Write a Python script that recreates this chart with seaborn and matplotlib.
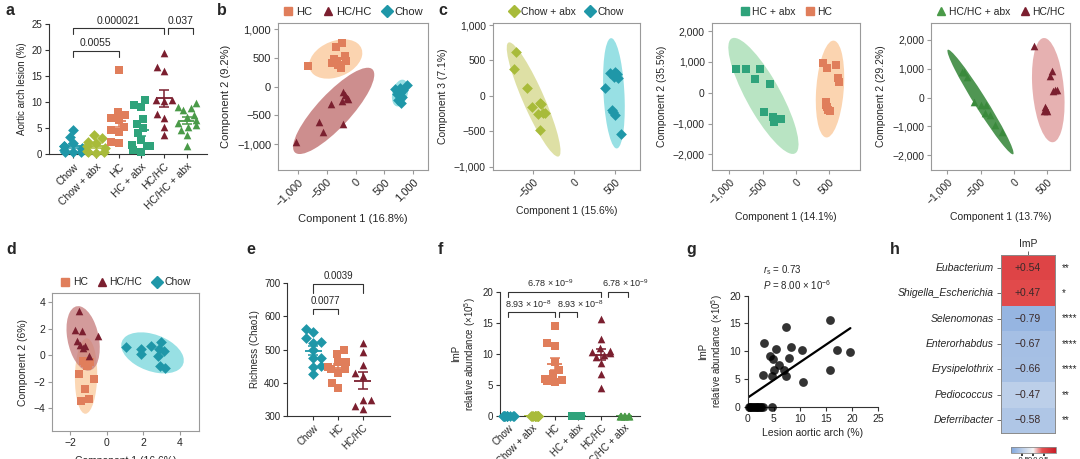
import numpy as np
import pandas as pd
import matplotlib
matplotlib.use("Agg")
import matplotlib.pyplot as plt
import seaborn as sns
import matplotlib.transforms as transforms
from matplotlib.patches import Ellipse
from matplotlib.lines import Line2D
from matplotlib.colors import LinearSegmentedColormap
from matplotlib.ticker import FuncFormatter

# ---------------- data ----------------
cats_a = ["Chow", "Chow + abx", "HC", "HC + abx", "HC/HC", "HC/HC + abx"]
a_chow = [4.7, 3.4, 2.1, 1.5, 1.2, 0.5, 0.5, 0.5, 0.8, 1.5, 1.0]
a_chow_abx = [3.7, 3.1, 2.4, 2.1, 1.5, 1.2, 0.7, 0.5, 0.3, 0.5]
a_hc = [16.2, 8.2, 7.5, 6.9, 6.6, 5.3, 4.7, 4.3, 2.4, 2.2]
a_hc_abx = [10.4, 9.5, 9.1, 6.8, 5.8, 5.0, 4.0, 2.7, 1.8, 1.5, 1.5, 0.8, 0.5]
a_hchc = [19.5, 16.8, 16.0, 10.5, 10.5, 6.9, 7.7, 3.7, 5.2, 10.3]
a_hchc_abx = [9.8, 9.0, 8.8, 8.5, 7.5, 7.2, 6.5, 6.1, 5.6, 5.3, 4.7, 3.7, 1.5]
a_pvals = ["0.0055", "0.000021", "0.037"]

# panel b (PLS-DA components)
b_hc_x = [-827, -337, -239, -372, -412, -297, -256, -182, -170, -326]
b_hc_y = [366, 680, 756, 477, 407, 378, 320, 523, 448, 436]
b_hchc_x = [-1029, -625, -556, -424, -239, -210, -182, -153, -135, -222]
b_hchc_y = [-971, -610, -785, -308, -250, -87, -145, -203, -215, -651]
b_chow_x = [683, 741, 769, 798, 741, 885, 769, 827, 712, 781]
b_chow_y = [-46, -87, -116, -174, -233, 29, -29, -58, -134, -279]

# panel c1
c1_abx_x = [-712, -733, -580, -514, -424, -403, -383, -444, -416, -362]
c1_abx_y = [614, 379, 106, -153, -106, -115, -247, -261, -482, -247]
c1_chow_x = [379, 440, 502, 523, 543, 461, 502, 481, 572, 494]
c1_chow_y = [106, 327, 341, 308, 247, -200, -271, -224, -544, 270]
# panel c2
c2_abx_x = [-905, -750, -540, -615, -390, -480, -340, -325, -230, -315]
c2_abx_y = [768, 768, 768, 443, 281, -616, -800, -940, -865, -854]
c2_hc_x = [400, 460, 600, 635, 650, 450, 460, 485, 450, 510]
c2_hc_y = [973, 789, 897, 465, 357, -292, -454, -562, -400, -595]
# panel c3
c3_abx_x = [-784, -746, -594, -499, -423, -366, -290, -176, -442, -708]
c3_abx_y = [879, 879, -158, -263, -263, -615, -949, -1186, -527, 703]
c3_hchc_x = [300, 565, 540, 615, 580, 465, 490, 455, 650, 480]
c3_hchc_y = [1803, 936, 751, 266, 243, -335, -462, -462, 266, -393]

# panel d
d_hc_x = [-1.5, -0.68, -1.22, -1.41, -0.95, -1.22, -1.04, -1.32, -1.1, -0.91]
d_hc_y = [-1.39, -1.79, -2.55, -3.43, -3.31, -0.58, -0.71, -0.45, -0.83, -0.53]
d_hchc_x = [-1.5, -1.72, -1.35, -0.49, -1.63, -1.44, -1.22, -0.99, -1.32]
d_hchc_y = [3.33, 1.89, 1.82, 1.44, 1.06, 0.81, 0.68, -0.08, 0.56]
d_chow_x = [1.06, 1.85, 1.85, 2.43, 2.98, 2.85, 3.13, 2.8, 2.89, 3.2]
d_chow_y = [0.61, 0.5, 0.1, 0.68, 0.98, 0.48, 0.35, -0.08, -0.78, -0.96]

# panel e
cats_e = ["Chow", "HC", "HC/HC"]
e_chow = [562, 552, 534, 521, 524, 498, 473, 473, 448, 450, 425]
e_hc = [500, 486, 463, 463, 448, 440, 440, 428, 398, 383]
e_hchc = [519, 493, 453, 428, 420, 347, 347, 320, 329]
e_pvals = ["0.0077", "0.0039"]

# panel f
f_chow = [0, 0, 0, 0, 0, 0, 0, 0, 0, 0]
f_chow_abx = [0, 0, 0, 0, 0, 0, 0, 0, 0, 0]
f_hc = [14.5, 11.7, 11.2, 8.7, 7.4, 6.7, 5.9, 5.8, 5.6, 5.5]
f_hc_abx = [0, 0, 0, 0, 0, 0, 0, 0, 0, 0, 0]
f_hchc = [15.6, 12.3, 10.9, 10.5, 10.2, 10.1, 9.8, 9.5, 8.5, 6.7, 4.4]
f_hchc_abx = [0, 0, 0, 0, 0, 0, 0, 0, 0, 0]

# panel g
g_lesion = [3.2, 7.4, 5.4, 8.3, 10.5, 4.3, 4.8, 6.0, 8.0, 7.05, 5.1, 3.0, 4.6, 7.4,
            10.7, 15.8, 15.8, 17.2, 19.7,
            0.2, 0.5, 0.7, 1.0, 1.2, 1.5, 1.8, 2.0, 2.3, 2.6, 2.9, 4.7]
g_imp = [11.5, 14.4, 10.4, 10.8, 10.3, 9.1, 8.6, 7.5, 8.7, 6.7, 6.6, 5.8, 5.6, 5.6,
         4.5, 15.7, 6.7, 10.2, 9.8,
         0, 0, 0, 0, 0, 0, 0, 0, 0, 0, 0, 0]

# panel h
h_taxa = ["Eubacterium", "Shigella_Escherichia", "Selenomonas", "Enterorhabdus",
          "Erysipelothrix", "Pediococcus", "Deferribacter"]
h_vals = [0.54, 0.47, -0.79, -0.67, -0.66, -0.47, -0.58]
h_stars = ["**", "*", "****", "****", "****", "**", "**"]

# ---------------- style ----------------
sns.set_theme(style="ticks")
plt.rcParams["font.family"] = ["Liberation Sans", "DejaVu Sans"]
plt.rcParams["mathtext.fontset"] = "custom"
plt.rcParams["mathtext.rm"] = "Liberation Sans"
plt.rcParams["mathtext.it"] = "Liberation Sans:italic"
plt.rcParams["mathtext.bf"] = "Liberation Sans:bold"
plt.rcParams["axes.unicode_minus"] = True

COL = {"Chow": "#1f97a8", "Chow + abx": "#a8bb3a", "HC": "#e07e5b",
       "HC + abx": "#2fa37b", "HC/HC": "#7b1f2f", "HC/HC + abx": "#4a9a48"}
MARK = {"Chow": "D", "Chow + abx": "D", "HC": "s", "HC + abx": "s",
        "HC/HC": "^", "HC/HC + abx": "^"}
ELL = {"Chow": "#86dbe0", "Chow + abx": "#d9db96", "HC": "#fbcda2",
       "HC + abx": "#ade0b9", "HC/HC": "#c57a7a", "HC/HC + abx": "#46914a"}

W, H = 1080, 459
fig = plt.figure(figsize=(10.8, 4.59), dpi=100)


def add_ax(l, t, r, b):
    return fig.add_axes([l / W, 1 - b / H, (r - l) / W, (b - t) / H])


def panel_label(x, y, s):
    fig.text(x / W, 1 - y / H, s, fontsize=11.5, fontweight="bold", va="top", ha="left")


def style_dot(ax, fs=7):
    sns.despine(ax=ax)
    for sp in ["left", "bottom"]:
        ax.spines[sp].set_color("#333333")
        ax.spines[sp].set_linewidth(0.8)
    ax.tick_params(length=3, width=0.8, labelsize=fs, color="#333333", pad=2)


def style_box(ax, fs=7.5):
    for sp in ax.spines.values():
        sp.set_color("#9a9a9a")
        sp.set_linewidth(0.8)
    ax.tick_params(length=3, width=0.8, labelsize=fs, color="#9a9a9a", pad=2)


thou = FuncFormatter(lambda v, p: f"{v:,.0f}".replace("-", "\u2212"))


def conf_ellipse(ax, x, y, color, n_std=2.45, alpha=0.85):
    x = np.asarray(x, float)
    y = np.asarray(y, float)
    cov = np.cov(x, y)
    pr = cov[0, 1] / np.sqrt(cov[0, 0] * cov[1, 1])
    e = Ellipse((0, 0), width=2 * np.sqrt(1 + pr), height=2 * np.sqrt(max(1 - pr, 1e-4)),
                facecolor=color, edgecolor="none", alpha=alpha, zorder=1)
    tr = (transforms.Affine2D().rotate_deg(45)
          .scale(np.sqrt(cov[0, 0]) * n_std, np.sqrt(cov[1, 1]) * n_std)
          .translate(x.mean(), y.mean()))
    e.set_transform(tr + ax.transData)
    ax.add_patch(e)


def scatter_group(ax, x, y, grp, s=30, color=None):
    sns.scatterplot(x=x, y=y, ax=ax, color=color or COL[grp], marker=MARK[grp],
                    s=s, linewidth=0, zorder=3, legend=False)


def legend_top(ax, groups, fs=7.5, ms=6):
    hs = [Line2D([], [], marker=MARK[g], color=COL[g], linestyle="none", markersize=ms)
          for g in groups]
    ax.legend(hs, groups, loc="lower center", bbox_to_anchor=(0.5, 1.0), ncol=len(groups),
              frameon=False, fontsize=fs, handletextpad=0.2, columnspacing=0.9,
              borderaxespad=0.15, handlelength=1.0)


def bracket(ax, x1, x2, y, h, text, tx=None, ty=None, fs=7):
    ax.plot([x1, x1, x2, x2], [y - h, y, y, y - h], color="#333333", lw=0.8,
            clip_on=False)
    ax.text((x1 + x2) / 2 if tx is None else tx, y + h * 0.35 if ty is None else ty,
            text, ha="center", va="bottom", fontsize=fs, clip_on=False)


def dot_panel(ax, groups, values, order, size=5.5, zero_groups=()):
    for g, v in zip(groups, values):
        df = pd.DataFrame({"grp": [g] * len(v), "val": v})
        if g in zero_groups:
            sns.stripplot(data=df, x="grp", y="val", order=order, color=COL[g],
                          marker=MARK[g], size=size, jitter=0.28, linewidth=0, ax=ax,
                          zorder=3, clip_on=False)
        else:
            sns.swarmplot(data=df, x="grp", y="val", order=order, color=COL[g],
                          marker=MARK[g], size=size, linewidth=0, ax=ax, zorder=3,
                          clip_on=False)
        i = order.index(g)
        m = np.mean(v)
        se = np.std(v, ddof=1) / np.sqrt(len(v))
        ax.hlines(m, i - 0.34, i + 0.34, color=COL[g], lw=1.3, zorder=4)
        ax.errorbar(i, m, yerr=se, color=COL[g], lw=1.1, capsize=3.5, capthick=1.1,
                    zorder=4)
    ax.set_xlabel("")


# ---------------- panel a ----------------
axa = add_ax(49, 24, 207, 154.3)
dot_panel(axa, cats_a, [a_chow, a_chow_abx, a_hc, a_hc_abx, a_hchc, a_hchc_abx], cats_a)
axa.set_xlim(-1.07, 5.9)
axa.set_ylim(0, 25)
axa.set_yticks([0, 5, 10, 15, 20, 25])
axa.set_xticks(range(6))
axa.set_xticklabels(cats_a, rotation=45, ha="right", rotation_mode="anchor")
axa.set_ylabel("Aortic arch lesion (%)", fontsize=7, labelpad=3)
style_dot(axa, 7)
axa.tick_params(axis="x", labelsize=7.5)
bracket(axa, 0, 2, 19.9, 1.3, a_pvals[0], fs=7.5)
bracket(axa, 0, 4, 24.2, 1.2, a_pvals[1], fs=7.5)
bracket(axa, 4.2, 5.3, 24.2, 1.2, a_pvals[2], fs=7.5)
panel_label(6, 3, "a")

# ---------------- panel b ----------------
axb = add_ax(278, 23, 428, 170)
conf_ellipse(axb, b_hc_x, b_hc_y, ELL["HC"])
conf_ellipse(axb, b_hchc_x, b_hchc_y, ELL["HC/HC"])
conf_ellipse(axb, b_chow_x, b_chow_y, ELL["Chow"])
scatter_group(axb, b_hc_x, b_hc_y, "HC")
scatter_group(axb, b_hchc_x, b_hchc_y, "HC/HC")
scatter_group(axb, b_chow_x, b_chow_y, "Chow")
axb.set_xlim(-1340, 1253)
axb.set_ylim(-1450, 1105)
axb.set_xticks([-1000, -500, 0, 500, 1000])
axb.set_yticks([-1000, -500, 0, 500, 1000])
axb.xaxis.set_major_formatter(thou)
axb.yaxis.set_major_formatter(thou)
plt.setp(axb.get_xticklabels(), rotation=45, ha="right", rotation_mode="anchor")
axb.set_xlabel("Component 1 (16.8%)", fontsize=8)
axb.set_ylabel("Component 2 (9.2%)", fontsize=8)
style_box(axb, 8)
legend_top(axb, ["HC", "HC/HC", "Chow"], fs=8)
panel_label(217, 3, "b")

# ---------------- panel c ----------------
axc1 = add_ax(492.7, 22.7, 640, 170)
conf_ellipse(axc1, c1_abx_x, c1_abx_y, ELL["Chow + abx"])
conf_ellipse(axc1, c1_chow_x, c1_chow_y, ELL["Chow"])
scatter_group(axc1, c1_abx_x, c1_abx_y, "Chow + abx")
scatter_group(axc1, c1_chow_x, c1_chow_y, "Chow")
axc1.set_xlim(-1000, 810)
axc1.set_ylim(-1047, 1033)
axc1.set_xticks([-500, 0, 500])
axc1.set_yticks([-1000, -500, 0, 500, 1000])
axc1.set_xlabel("Component 1 (15.6%)", fontsize=7.5)
axc1.set_ylabel("Component 3 (7.1%)", fontsize=7.5)
legend_top(axc1, ["Chow + abx", "Chow"])

axc2 = add_ax(711.7, 22.7, 860, 170)
conf_ellipse(axc2, c2_abx_x, c2_abx_y, ELL["HC + abx"])
conf_ellipse(axc2, c2_hc_x, c2_hc_y, ELL["HC"])
scatter_group(axc2, c2_abx_x, c2_abx_y, "HC + abx")
scatter_group(axc2, c2_hc_x, c2_hc_y, "HC")
axc2.set_xlim(-1265, 960)
axc2.set_ylim(-2508, 2270)
axc2.set_xticks([-1000, -500, 0, 500])
axc2.set_yticks([-2000, -1000, 0, 1000, 2000])
axc2.set_xlabel("Component 1 (14.1%)", fontsize=7.5)
axc2.set_ylabel("Component 2 (35.5%)", fontsize=7.5)
legend_top(axc2, ["HC + abx", "HC"])

axc3 = add_ax(931, 22.7, 1070, 170)
conf_ellipse(axc3, c3_abx_x, c3_abx_y, ELL["HC/HC + abx"], alpha=0.95)
conf_ellipse(axc3, c3_hchc_x, c3_hchc_y, "#e2a4a4")
scatter_group(axc3, c3_abx_x, c3_abx_y, "HC/HC + abx", color="#3a8a3c")
scatter_group(axc3, c3_hchc_x, c3_hchc_y, "HC/HC")
axc3.set_xlim(-1245, 840)
axc3.set_ylim(-2509, 2600)
axc3.set_xticks([-1000, -500, 0, 500])
axc3.set_yticks([-2000, -1000, 0, 1000, 2000])
axc3.set_xlabel("Component 1 (13.7%)", fontsize=7.5)
axc3.set_ylabel("Component 2 (29.2%)", fontsize=7.5)
legend_top(axc3, ["HC/HC + abx", "HC/HC"])
for ax in (axc1, axc2, axc3):
    ax.xaxis.set_major_formatter(thou)
    ax.yaxis.set_major_formatter(thou)
    plt.setp(ax.get_xticklabels(), rotation=45, ha="right", rotation_mode="anchor")
    style_box(ax, 7.5)
panel_label(438, 3, "c")

# ---------------- panel d ----------------
axd = add_ax(52, 293, 199, 431)
conf_ellipse(axd, d_hc_x, d_hc_y, ELL["HC"], alpha=0.8)
conf_ellipse(axd, d_hchc_x, d_hchc_y, ELL["HC/HC"], alpha=0.75)
conf_ellipse(axd, d_chow_x, d_chow_y, ELL["Chow"])
scatter_group(axd, d_hc_x, d_hc_y, "HC")
scatter_group(axd, d_hchc_x, d_hchc_y, "HC/HC")
scatter_group(axd, d_chow_x, d_chow_y, "Chow")
axd.set_xlim(-3.0, 5.05)
axd.set_ylim(-5.7, 4.7)
axd.set_xticks([-2, 0, 2, 4])
axd.set_yticks([-4, -2, 0, 2, 4])
axd.set_xlabel("Component 1 (16.6%)", fontsize=7.5, labelpad=6)
axd.set_ylabel("Component 2 (6%)", fontsize=7.5)
style_box(axd, 7.5)
legend_top(axd, ["HC", "HC/HC", "Chow"])
panel_label(6, 242, "d")

# ---------------- panel e ----------------
axe = add_ax(287.3, 283.3, 390, 415.7)
dot_panel(axe, cats_e, [e_chow, e_hc, e_hchc], cats_e)
axe.set_xlim(-1.05, 3.1)
axe.set_ylim(300, 700)
axe.set_yticks([300, 400, 500, 600, 700])
axe.set_xticks(range(3))
axe.set_xticklabels(cats_e, rotation=45, ha="right", rotation_mode="anchor")
axe.set_ylabel("Richness (Chao1)", fontsize=7, labelpad=3)
style_dot(axe, 7)
bracket(axe, 0, 1, 622, 15, e_pvals[0], ty=630)
bracket(axe, 0, 2, 698, 26, e_pvals[1], ty=706)
panel_label(246, 242, "e")

# ---------------- panel f ----------------
axf = add_ax(500, 291.7, 640, 415.7)
dot_panel(axf, cats_a, [f_chow, f_chow_abx, f_hc, f_hc_abx, f_hchc, f_hchc_abx], cats_a,
          zero_groups=("Chow", "Chow + abx", "HC + abx", "HC/HC + abx"))
axf.set_xlim(-0.36, 5.69)
axf.set_ylim(0, 20)
axf.set_yticks([0, 5, 10, 15, 20])
axf.set_xticks(range(6))
axf.set_xticklabels(cats_a, rotation=45, ha="right", rotation_mode="anchor")
axf.set_ylabel("ImP\nrelative abundance (\u00d710$^{5}$)", fontsize=7, labelpad=3,
               linespacing=1.1)
style_dot(axf, 7)
bracket(axf, 0, 4, 20.0, 0.8, "6.78 \u00d7 10$^{-9}$", tx=1.8, ty=20.4, fs=6.5)
bracket(axf, 4.3, 5.15, 20.0, 0.8, "6.78 \u00d7 10$^{-9}$", tx=5.05, ty=20.4, fs=6.5)
bracket(axf, 0, 2, 16.8, 0.9, "8.93 \u00d7 10$^{-8}$", tx=0.85, ty=17.1, fs=6.5)
bracket(axf, 2.2, 2.95, 16.8, 0.9, "8.93 \u00d7 10$^{-8}$", tx=3.12, ty=17.1, fs=6.5)
panel_label(438, 242, "f")

# ---------------- panel g ----------------
axg = add_ax(747.7, 295.7, 878, 406.7)
sns.regplot(x=g_lesion, y=g_imp, ax=axg, ci=None, color="black",
            scatter_kws={"s": 40, "linewidths": 0, "clip_on": False, "zorder": 3},
            line_kws={"lw": 1.6, "color": "black"})
axg.set_xlim(0, 25)
axg.set_ylim(0, 20)
axg.set_xticks([0, 5, 10, 15, 20, 25])
axg.set_yticks([0, 5, 10, 15, 20])
axg.set_xlabel("Lesion aortic arch (%)", fontsize=7.5, labelpad=3)
axg.set_ylabel("ImP\nrelative abundance (\u00d710$^{5}$)", fontsize=7, labelpad=3,
               linespacing=1.1)
style_dot(axg, 7.5)
axg.text(3.0, 24.1, "$r_{\\mathrm{s}}$ = 0.73", fontsize=7, clip_on=False)
axg.text(3.0, 21.0, "$P$ = 8.00 \u00d7 10$^{-6}$", fontsize=7, clip_on=False)
panel_label(686, 242, "g")

# ---------------- panel h ----------------
axh = add_ax(1001, 255, 1055, 433)
cax = add_ax(1010.7, 447, 1055.7, 453)
cmap = LinearSegmentedColormap.from_list(
    "bwr_custom", [(0.0, "#7ea5dc"), (0.5, "#f4f4f4"), (0.7, "#e55050"), (1.0, "#c81e28")])
hdf = pd.DataFrame({"ImP": h_vals}, index=h_taxa)
annot = np.array([[f"{v:+.2f}".replace("-", "\u2212")] for v in h_vals])
sns.heatmap(hdf, ax=axh, cmap=cmap, vmin=-1, vmax=1, annot=annot, fmt="",
            annot_kws={"fontsize": 7.5, "color": "#3a2a2a"}, cbar=True, cbar_ax=cax,
            cbar_kws={"orientation": "horizontal", "ticks": [-0.5, 0, 0.5]})
axh.xaxis.tick_top()
axh.tick_params(axis="x", length=3, width=0.7, labelsize=7.5, pad=1, color="#666666")
axh.tick_params(axis="y", length=3, width=0.7, labelsize=7.5, pad=2, color="#666666")
for t in axh.get_yticklabels():
    t.set_style("italic")
    t.set_rotation(0)
for sp in axh.spines.values():
    sp.set_visible(True)
    sp.set_color("#8a8a8a")
    sp.set_linewidth(0.7)
for i, s in enumerate(h_stars):
    axh.text(1.12, i + 0.5, s, ha="left", va="center", fontsize=7, clip_on=False)
cax.tick_params(length=2, labelsize=5.5, pad=1)
for sp in cax.spines.values():
    sp.set_color("#8a8a8a")
    sp.set_linewidth(0.6)
panel_label(890, 242, "h")

fig.savefig("out.png", dpi=100)
